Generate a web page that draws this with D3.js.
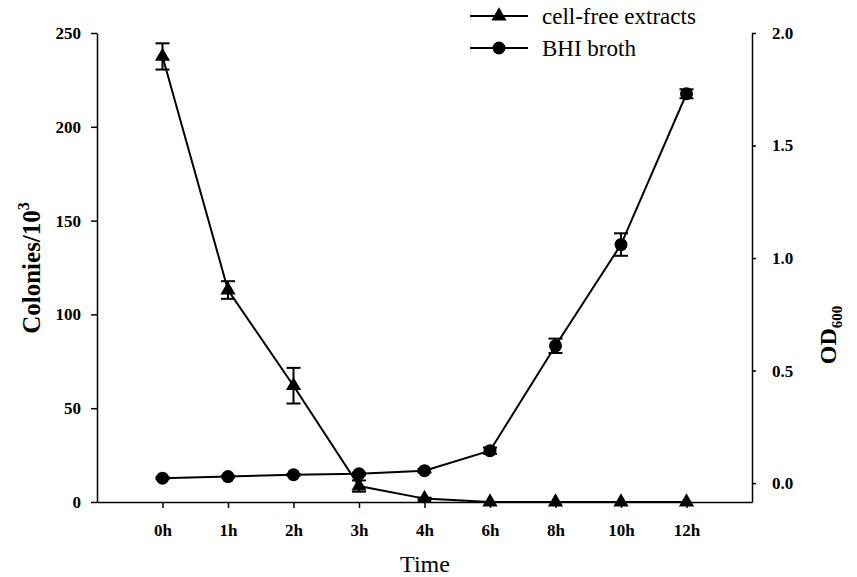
<!DOCTYPE html>
<html>
<head>
<meta charset="utf-8">
<script src="https://cdn.jsdelivr.net/npm/d3@7"></script>
<style>
  body { margin: 0; background: #fff; }
  svg text { font-family: "Liberation Serif", "Times New Roman", serif; }
  .tick text { font-family: "Liberation Serif", serif; font-weight: bold; font-size: 17px; fill: #000; }
  .domain, .tick line { stroke: #000; stroke-width: 1.5px; }
</style>
</head>
<body>
<svg id="chart" width="857" height="577"></svg>
<script>
// data
const times = ["0h", "1h", "2h", "3h", "4h", "6h", "8h", "10h", "12h"];
const colonies = [237.5, 113, 62, 8.5, 1.8, 0, 0, 0, 0];
const coloniesErr = [7, 4.7, 9.5, 3, 0.5, 0, 0, 0, 0];
const od = [0.022, 0.029, 0.037, 0.041, 0.055, 0.144, 0.61, 1.06, 1.73];
const odErr = [0.004, 0.004, 0.004, 0.006, 0.008, 0.014, 0.032, 0.05, 0.02];
const leftTicks = [0, 50, 100, 150, 200, 250];
const rightTicks = [0, 0.5, 1.0, 1.5, 2.0];

const svg = d3.select("#chart");

let x = d3.scaleLinear().domain([-1, 9]).range([97, 752]);
let yL = d3.scaleLinear().domain([0, 250]).range([502, 33]);
let yR = d3.scaleLinear().domain([-0.084, 2.0]).range([502, 33]);

// axes
svg.append("g")
  .attr("transform", "translate(0,502)")
  .call(d3.axisBottom(x).tickValues(d3.range(times.length)).tickFormat(i => times[i]).tickSize(6).tickPadding(16).tickSizeOuter(0));

svg.append("g")
  .attr("transform", "translate(97,0)")
  .call(d3.axisLeft(yL).tickValues(leftTicks).tickSize(6).tickPadding(10).tickSizeOuter(0));

svg.append("g")
  .attr("transform", "translate(752,0)")
  .call(d3.axisRight(yR).tickValues(rightTicks).tickFormat(d3.format(".1f")).tickSize(4).tickPadding(16).tickSizeOuter(0));

// axis titles
svg.append("text")
  .attr("x", 425).attr("y", 572)
  .attr("text-anchor", "middle")
  .style("font-size", "24px")
  .text("Time");

let lt = svg.append("text")
  .attr("transform", "translate(40,268) rotate(-90)")
  .attr("text-anchor", "middle")
  .style("font-size", "25px").style("font-weight", "bold");
lt.append("tspan").text("Colonies/10");
lt.append("tspan").attr("dy", -11).style("font-size", "16px").text("3");

let rt = svg.append("text")
  .attr("transform", "translate(836,335) rotate(-90)")
  .attr("text-anchor", "middle")
  .style("font-size", "24px").style("font-weight", "bold");
rt.append("tspan").text("OD");
rt.append("tspan").attr("dy", 6).style("font-size", "15px").text("600");

// series drawing helpers
const triangle = d3.symbol().type(d3.symbolTriangle).size(100);

function drawSeries(values, errs, y, marker) {
  const g = svg.append("g");
  const line = d3.line().x((d, i) => x(i)).y(d => y(d));
  g.append("path")
    .datum(values)
    .attr("d", line)
    .attr("fill", "none")
    .attr("stroke", "#000")
    .attr("stroke-width", 2);

  // error bars
  values.forEach((v, i) => {
    if (!errs[i]) return;
    const top = y(v + errs[i]), bot = y(v - errs[i]);
    g.append("line").attr("x1", x(i)).attr("x2", x(i)).attr("y1", top).attr("y2", bot)
      .attr("stroke", "#000").attr("stroke-width", 2);
    [top, bot].forEach(yy => {
      g.append("line").attr("x1", x(i) - 7).attr("x2", x(i) + 7).attr("y1", yy).attr("y2", yy)
        .attr("stroke", "#000").attr("stroke-width", 2);
    });
  });

  values.forEach((v, i) => {
    if (marker == "circle") {
      g.append("circle").attr("cx", x(i)).attr("cy", y(v)).attr("r", 6.5).attr("fill", "#000");
    } else {
      g.append("path").attr("d", triangle).attr("transform", `translate(${x(i)},${y(v)})`).attr("fill", "#000");
    }
  });
}

drawSeries(colonies, coloniesErr, yL, "triangle");
drawSeries(od, odErr, yR, "circle");

// legend
const legend = [
  { name: "cell-free extracts", marker: "triangle", y: 16 },
  { name: "BHI broth", marker: "circle", y: 48 }
];
legend.forEach(item => {
  svg.append("line").attr("x1", 470).attr("x2", 528).attr("y1", item.y).attr("y2", item.y)
    .attr("stroke", "#000").attr("stroke-width", 2);
  if (item.marker == "circle") {
    svg.append("circle").attr("cx", 499).attr("cy", item.y).attr("r", 6.5).attr("fill", "#000");
  } else {
    svg.append("path").attr("d", triangle).attr("transform", `translate(499,${item.y})`).attr("fill", "#000");
  }
  svg.append("text").attr("x", 542).attr("y", item.y + 8)
    .style("font-size", "23px")
    .text(item.name);
});
</script>
</body>
</html>
